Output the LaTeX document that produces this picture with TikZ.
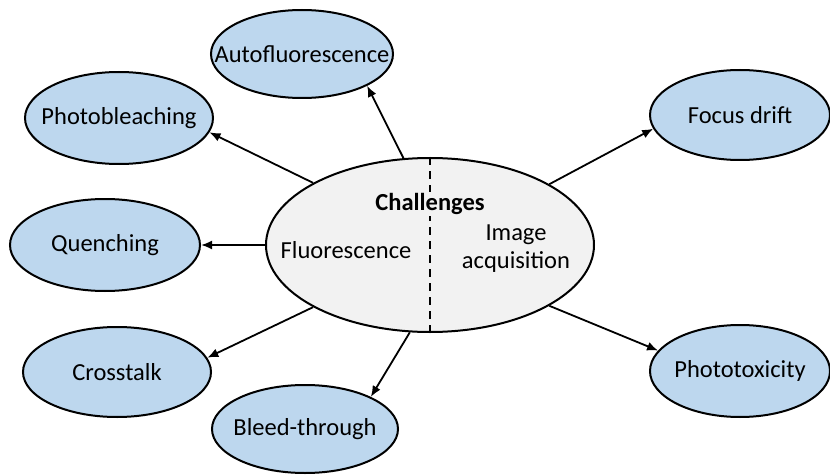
\documentclass[tikz,border=0pt]{standalone}
\usepackage{fontspec}
\setmainfont{Carlito}
\usetikzlibrary{shapes.geometric,arrows.meta}
\definecolor{leafblue}{HTML}{BDD7EE}
\definecolor{hubgray}{HTML}{F2F2F2}
\begin{document}
\begin{tikzpicture}[x=1pt,y=-1pt,
  every node/.style={font=\fontsize{24.5}{28}\selectfont},
  % negative separation lets the minimum size alone fix each ellipse
  leaf/.style={ellipse,draw=black,line width=2pt,fill=leafblue,
    inner xsep=-45pt,inner ysep=-20pt},
  hub/.style={ellipse,draw=black,line width=2pt,fill=hubgray,inner sep=0pt,
    minimum width=328pt,minimum height=174pt},
  link/.style={line width=1.8pt,-{Latex[length=11pt,width=9pt]}}]
  \useasboundingbox (0,0) rectangle (830,476);

  % central hub split into two halves
  \node[hub] (c) at (430,245) {};
  \draw[line width=2.5pt,dash pattern=on 8pt off 6pt] (c.north) -- (c.south);
  \node[fill=hubgray,inner sep=1pt,font=\fontsize{24.5}{28}\selectfont\bfseries] (title) at (430,204) {Challenges};
  \node (fluo) at (346,250) {Fluorescence};
  \node[align=center] (acq) at (516,249) {Image\\acquisition};

  % surrounding issues
  \node[leaf,minimum width=182pt,minimum height=88pt] (auto) at (302,54) {Autofluorescence};
  \node[leaf,minimum width=188pt,minimum height=92pt] (pb) at (119,118) {Photobleaching};
  \node[leaf,minimum width=190pt,minimum height=92pt] (q) at (105,245) {Quenching};
  \node[leaf,minimum width=188pt,minimum height=90pt] (ct) at (117,372) {Crosstalk};
  \node[leaf,minimum width=186pt,minimum height=88pt] (bt) at (305,429) {Bleed-through};
  \node[leaf,minimum width=180pt,minimum height=90pt] (fd) at (740,115) {Focus drift};
  \node[leaf,minimum width=180pt,minimum height=92pt] (pt) at (740,371) {Phototoxicity};

  % connectors from the hub
  \draw[link] (c.107) -- (auto.-26);
  \draw[link] (c.152) -- (pb.-9);
  \draw[link] (c.west) -- (q.east);
  \draw[link] (c.208) -- (ct.9);
  \draw[link] (c.257) -- (bt.26);
  \draw[link] (c.27) -- (fd.189);
  \draw[link] (c.-27) -- (pt.166);
\end{tikzpicture}
\end{document}
